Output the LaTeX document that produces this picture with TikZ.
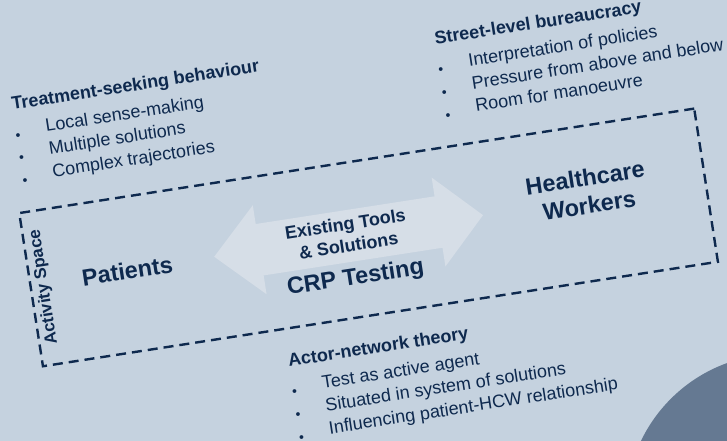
\documentclass[tikz,border=0pt]{standalone}
\usepackage{fontspec}
\setmainfont{Liberation Sans}
\definecolor{slidebg}{RGB}{197,210,223}
\definecolor{arrowbg}{RGB}{214,222,231}
\definecolor{navy}{RGB}{14,41,78}
\definecolor{slate}{RGB}{101,121,146}
\newcommand{\blt}{\makebox[31pt][l]{\raisebox{-3.5pt}{\fontsize{14}{14}\selectfont •}}}

\begin{document}
\begin{tikzpicture}[x=1pt,y=-1pt,
        theory/.style={inner sep=0pt,anchor=base west,text=navy,font=\fontsize{18}{22}\selectfont\bfseries},
        listitem/.style={inner sep=0pt,anchor=base west,text=navy,font=\fontsize{18}{22}\selectfont},
        actor/.style={inner sep=0pt,align=center,text=navy,font=\fontsize{23.5}{28}\selectfont\bfseries}]
        \clip (0,0) rectangle (727,441);
        \fill[slidebg] (0,0) rectangle (727,441);
        \fill[slate] (779,507) circle (153pt);
        \begin{scope}[rotate around={8.8:(368,237)},transform shape]
        \fill[arrowbg] (213,233) -- (259,188) -- (259,207) -- (440,207) -- (440,188) -- (485,233)
            -- (440,278) -- (440,259) -- (259,259) -- (259,278) -- cycle;
        \node[draw=navy,line width=2.4pt,dash pattern=on 10pt off 6pt,minimum width=683pt,minimum height=155pt,inner sep=0pt] (space) at (368.5,237.5) {};
        \node[actor,font=\fontsize{17}{20}\selectfont\bfseries,rotate=90] (activity) at (40,237) {Activity Space};
        \node[actor,anchor=base west] (patients) at (79,242) {Patients};
        \node[actor] (hcw) at (591.5,225.5) {Healthcare\\Workers};
        \node[actor,font=\fontsize{18}{22}\selectfont\bfseries] (tools) at (347.5,231.5) {Existing Tools\\\& Solutions};
        \node[actor,anchor=base] (crp) at (349.5,282) {CRP Testing};
        \node[theory] (tsb) at (36,57) {Treatment-seeking behaviour};
        \node[listitem] (tsb1) at (35,84) {\blt Local sense-making};
        \node[listitem] (tsb2) at (35,107) {\blt Multiple solutions};
        \node[listitem] (tsb3) at (35,130) {\blt Complex trajectories};
        \node[theory] (slb) at (464,57) {Street-level bureaucracy};
        \node[listitem] (slb1) at (463,84) {\blt Interpretation of policies};
        \node[listitem] (slb2) at (463,107) {\blt Pressure from above and below};
        \node[listitem] (slb3) at (463,130) {\blt Room for manoeuvre};
        \node[theory] (ant) at (270,353) {Actor-network theory};
        \node[listitem] (ant1) at (269,380) {\blt Test as active agent};
        \node[listitem] (ant2) at (269,403) {\blt Situated in system of solutions};
        \node[listitem] (ant3) at (269,426) {\blt Influencing patient-HCW relationship};
        \end{scope}
\end{tikzpicture}
\end{document}
